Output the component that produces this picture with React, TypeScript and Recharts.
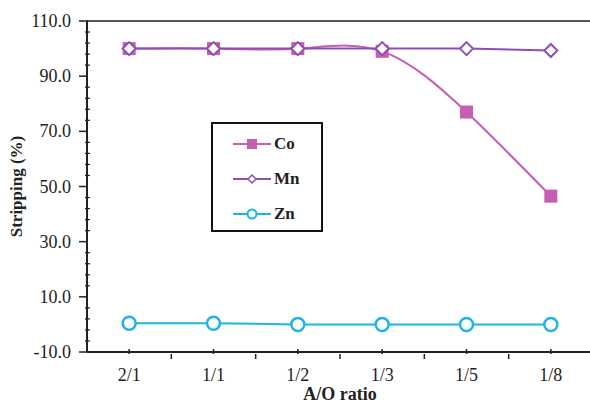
import React from "react";
import {
  ComposedChart,
  Line,
  XAxis,
  YAxis,
  ReferenceLine,
} from "recharts";

// A/O ratios on the x axis
const ratios = ["2/1", "1/1", "1/2", "1/3", "1/5", "1/8"];

// stripping (%) per metal
const coValues = [100, 100, 100, 99, 77, 46.5];
const mnValues = [100, 100, 100, 100, 100, 99.3];
const znValues = [0.4, 0.4, 0, 0, 0, 0];

const yMajorTicks = [-10, 10, 30, 50, 70, 90, 110];
const yMinorTicks = [
  -6, -2, 2, 6, 14, 18, 22, 26, 34, 38, 42, 46, 54, 58, 62, 66, 74, 78, 82,
  86, 94, 98, 102, 106,
];

const chartData = ratios.map((r, i) => ({
  ratio: r,
  Co: coValues[i],
  Mn: mnValues[i],
  Zn: znValues[i],
}));

const CO = "#c75db3";
const MN = "#8d4fb0";
const ZN = "#1db4e2";
const FONT = "Liberation Serif";

const WIDTH = 596;
const HEIGHT = 405;
const MARGIN = { top: 21, right: 3, left: 0, bottom: 0 };
const Y_AXIS_W = 87;
const BAND = (WIDTH - MARGIN.right - Y_AXIS_W) / ratios.length;

const YTick = (props: any) => {
  const { x, y, payload } = props;
  const major = yMajorTicks.includes(payload.value);
  if (!major) {
    return <line x1={x} x2={x + 5} y1={y} y2={y} stroke="#222" strokeWidth={1.2} />;
  }
  return (
    <g>
      <line x1={x - 6} x2={x + 3} y1={y} y2={y} stroke="#222" strokeWidth={1.5} />
      <text
        x={x - 14}
        y={y}
        dy={6}
        textAnchor="end"
        fontFamily={FONT}
        fontSize={18}
        fill="#222"
      >
        {payload.value.toFixed(1)}
      </text>
    </g>
  );
};

const XTick = (props: any) => {
  const { x, y, payload } = props;
  return (
    <g>
      <line x1={x} x2={x} y1={y - 5} y2={y} stroke="#222" strokeWidth={1.5} />
      <line x1={x + BAND / 2} x2={x + BAND / 2} y1={y} y2={y + 5} stroke="#222" strokeWidth={1.5} />
      <text
        x={x}
        y={y + 27}
        textAnchor="middle"
        fontFamily={FONT}
        fontSize={18}
        fill="#222"
      >
        {payload.value}
      </text>
    </g>
  );
};

const SquareDot = (props: any) => {
  const { cx, cy } = props;
  if (cx == null || cy == null) return null;
  return <rect x={cx - 6.5} y={cy - 6.5} width={13} height={13} fill={CO} />;
};

const DiamondDot = (props: any) => {
  const { cx, cy } = props;
  if (cx == null || cy == null) return null;
  return (
    <path
      d={`M${cx},${cy - 6.5} L${cx + 6.5},${cy} L${cx},${cy + 6.5} L${cx - 6.5},${cy} Z`}
      fill="#fff"
      stroke={MN}
      strokeWidth={2}
    />
  );
};

const CircleDot = (props: any) => {
  const { cx, cy } = props;
  if (cx == null || cy == null) return null;
  return <circle cx={cx} cy={cy} r={6.5} fill="#fff" stroke={ZN} strokeWidth={2.5} />;
};

const legendItems = [
  { name: "Co", color: CO, marker: "square" },
  { name: "Mn", color: MN, marker: "diamond" },
  { name: "Zn", color: ZN, marker: "circle" },
];

const LegendBox = () => (
  <div
    style={{
      position: "absolute",
      left: 211,
      top: 122,
      width: 112,
      height: 110,
      border: "2px solid #111",
      background: "#fff",
      boxSizing: "border-box",
      paddingTop: 2,
    }}
  >
    {legendItems.map((item) => (
      <div
        key={item.name}
        style={{ display: "flex", alignItems: "center", height: 35, paddingLeft: 20 }}
      >
        <svg width={38} height={14}>
          <line x1={0} x2={38} y1={7} y2={7} stroke={item.color} strokeWidth={2} />
          {item.marker === "square" && <rect x={14} y={2} width={10} height={10} fill={item.color} />}
          {item.marker === "diamond" && (
            <path d="M19,3 L23,7 L19,11 L15,7 Z" fill="#fff" stroke={item.color} strokeWidth={1.5} />
          )}
          {item.marker === "circle" && (
            <circle cx={19} cy={7} r={4.5} fill="#fff" stroke={item.color} strokeWidth={2} />
          )}
        </svg>
        <span
          style={{
            fontFamily: FONT,
            fontWeight: "bold",
            fontSize: 17,
            color: "#222",
            marginLeft: 3,
          }}
        >
          {item.name}
        </span>
      </div>
    ))}
  </div>
);

export default function App() {
  return (
    <div
      style={{
        position: "absolute",
        left: 0,
        top: 0,
        width: 590,
        height: HEIGHT,
        overflow: "hidden",
        background: "#fff",
      }}
    >
      <ComposedChart width={WIDTH} height={HEIGHT} data={chartData} margin={MARGIN}>
        <XAxis
          dataKey="ratio"
          height={53}
          padding={{ left: BAND / 2, right: BAND / 2 }}
          axisLine={{ stroke: "#222", strokeWidth: 2 }}
          tickLine={false}
          tickSize={0}
          tick={<XTick />}
          interval={0}
          label={{
            value: "A/O ratio",
            position: "insideBottom",
            offset: 5,
            fontFamily: FONT,
            fontWeight: "bold",
            fontSize: 18,
            fill: "#222",
          }}
        />
        <YAxis
          width={Y_AXIS_W}
          domain={[-10, 110]}
          ticks={[...yMajorTicks, ...yMinorTicks].sort((a, b) => a - b)}
          interval={0}
          allowDataOverflow
          axisLine={{ stroke: "#222", strokeWidth: 2 }}
          tickLine={false}
          tickSize={0}
          tick={<YTick />}
          label={{
            value: "Stripping  (%)",
            angle: -90,
            position: "insideLeft",
            offset: 16,
            style: { textAnchor: "middle" },
            fontFamily: FONT,
            fontWeight: "bold",
            fontSize: 17,
            fill: "#222",
          }}
        />
        <ReferenceLine y={110} stroke="#555" strokeWidth={2} />
        <Line
          type="natural"
          dataKey="Co"
          stroke={CO}
          strokeWidth={2}
          dot={<SquareDot />}
          activeDot={false}
          isAnimationActive={false}
        />
        <Line
          type="linear"
          dataKey="Mn"
          stroke={MN}
          strokeWidth={2}
          dot={<DiamondDot />}
          activeDot={false}
          isAnimationActive={false}
        />
        <Line
          type="linear"
          dataKey="Zn"
          stroke={ZN}
          strokeWidth={2}
          dot={<CircleDot />}
          activeDot={false}
          isAnimationActive={false}
        />
      </ComposedChart>
      <LegendBox />
    </div>
  );
}
